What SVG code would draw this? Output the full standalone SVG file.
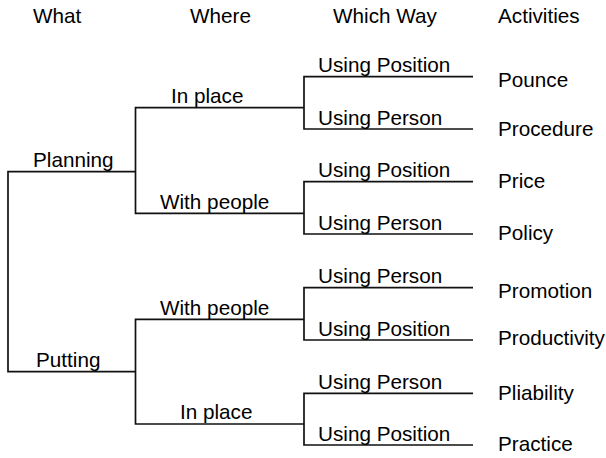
<svg xmlns="http://www.w3.org/2000/svg" width="606" height="458" viewBox="0 0 606 458">
<style>
text{font-family:"Liberation Sans",Arial,sans-serif;font-size:20.7px;fill:#000}
.c{fill:none;stroke:#111;stroke-width:1.7}
</style>
<rect width="606" height="458" fill="#fff"/>
<g id="headers">
<text x="33" y="23">What</text>
<text x="190" y="23">Where</text>
<text x="333" y="23">Which Way</text>
<text x="498" y="23">Activities</text>
</g>
<g id="connectors">
<path class="c" d="M135 171.7H8V371.7H135"/>
<path class="c" d="M304 107.7H135.5V213.3H304"/>
<path class="c" d="M304 319.3H135.5V424H304"/>
<path class="c" d="M473 76.7H304V129H473"/>
<path class="c" d="M473 181.7H304V234H473"/>
<path class="c" d="M473 287.7H304V340H473"/>
<path class="c" d="M473 393.3H304V445H473"/>
</g>
<g id="planning"><text x="33" y="166.7">Planning</text></g>
<g id="putting"><text x="36" y="367">Putting</text></g>
<g id="planning-inplace"><text x="171" y="103.3">In place</text></g>
<g id="planning-withpeople"><text x="160" y="208.5">With people</text></g>
<g id="putting-withpeople"><text x="160" y="314.5">With people</text></g>
<g id="putting-inplace"><text x="180" y="419.3">In place</text></g>
<g id="way1"><text x="318" y="72">Using Position</text></g>
<g id="way2"><text x="318" y="124.5">Using Person</text></g>
<g id="way3"><text x="318" y="177.2">Using Position</text></g>
<g id="way4"><text x="318" y="229.5">Using Person</text></g>
<g id="way5"><text x="318" y="283.2">Using Person</text></g>
<g id="way6"><text x="318" y="335.5">Using Position</text></g>
<g id="way7"><text x="318" y="388.8">Using Person</text></g>
<g id="way8"><text x="318" y="440.5">Using Position</text></g>
<g id="pounce"><text x="498" y="86.7">Pounce</text></g>
<g id="procedure"><text x="498" y="135.5">Procedure</text></g>
<g id="price"><text x="498" y="187.7">Price</text></g>
<g id="policy"><text x="498" y="240">Policy</text></g>
<g id="promotion"><text x="498" y="297.5">Promotion</text></g>
<g id="productivity"><text x="498" y="344.5">Productivity</text></g>
<g id="pliability"><text x="498" y="399.5">Pliability</text></g>
<g id="practice"><text x="498" y="451">Practice</text></g>
</svg>
